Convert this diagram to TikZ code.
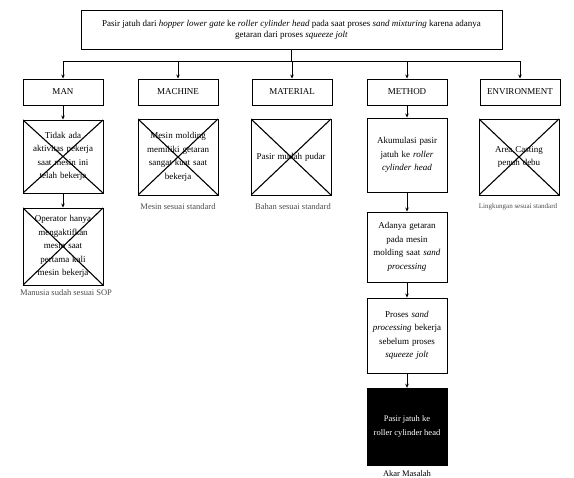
\documentclass[tikz,border=0pt]{standalone}
\usepackage{fontspec}
\setmainfont{Liberation Serif}
\usetikzlibrary{arrows.meta}
\begin{document}
\begin{tikzpicture}[x=1pt,y=-1pt,
  every node/.style={inner sep=1pt},
  probbox/.style={draw,line width=0.9pt,align=center,font=\fontsize{9}{11}\selectfont,minimum width=421pt,minimum height=39pt},
  catbox/.style={draw,line width=0.9pt,align=center,font=\fontsize{9}{11}\selectfont,minimum width=80pt,minimum height=26pt},
  causebox/.style={draw,line width=0.9pt,align=center,font=\fontsize{9}{13.5}\selectfont,minimum width=80pt,text width=76pt},
  crossed/.style={path picture={\draw[line width=1.1pt] (path picture bounding box.north west) -- (path picture bounding box.south east) (path picture bounding box.north east) -- (path picture bounding box.south west);}},
  rootbox/.style={draw,fill=black,text=white,align=center,font=\fontsize{8.5}{14}\selectfont,minimum width=80pt,minimum height=77pt},
  caption/.style={font=\fontsize{8.5}{10}\selectfont,text=black!70},
  link/.style={line width=0.9pt},
  arr/.style={line width=0.9pt,-{Stealth[length=4pt,width=3.5pt]}}
]
\useasboundingbox (0,0) rectangle (574,478);

\node[probbox] (top) at (291.5,29.5) {Pasir jatuh dari \textit{hopper lower gate} ke \textit{roller cylinder head} pada saat proses \textit{sand mixturing} karena adanya\\ getaran dari proses \textit{squeeze jolt}};

\node[catbox] (man) at (63,92) {MAN};
\node[catbox] (mach) at (178,92) {MACHINE};
\node[catbox] (mat) at (292,92) {MATERIAL};
\node[catbox] (meth) at (407,92) {METHOD};
\node[catbox] (env) at (520,92) {ENVIRONMENT};

\draw[link] (top.south) -- ++(0,12) coordinate (busc);
\draw[link] (man.north |- busc) -- (env.north |- busc);
\foreach \n in {man,mach,mat,meth,env} \draw[arr] (\n.north |- busc) -- (\n.north);

\node[causebox,crossed,minimum height=73pt] (man1) at (63,156.5) {Tidak ada\\ aktivitas pekerja\\ saat mesin ini\\ telah bekerja};
\node[causebox,crossed,minimum height=77pt] (man2) at (63,246.5) {Operator hanya\\ mengaktifkan\\ mesin saat\\ pertama kali\\ mesin bekerja};
\node[causebox,crossed,minimum height=76pt] (mach1) at (178,157) {Mesin molding\\ memiliki getaran\\ sangat kuat saat\\ bekerja};
\node[causebox,crossed,minimum height=76pt] (mat1) at (291,157) {Pasir mudah pudar};
\node[causebox,crossed,minimum height=76pt] (env1) at (519,157) {Area Casting\\ penuh debu};

\node[causebox,minimum height=74pt] (meth1) at (407,155) {Akumulasi pasir\\ jatuh ke \textit{roller}\\ \textit{cylinder head}};
\node[causebox,minimum height=70pt] (meth2) at (407,247) {Adanya getaran\\ pada mesin\\ molding saat \textit{sand}\\ \textit{processing}};
\node[causebox,minimum height=75pt] (meth3) at (407,335.5) {Proses \textit{sand}\\ \textit{processing} bekerja\\ sebelum proses\\ \textit{squeeze jolt}};
\node[rootbox] (root) at (407,426.5) {Pasir jatuh ke\\ roller cylinder head};

\draw[arr] (man) -- (man1);
\draw[arr] (man1) -- (man2);
\draw[arr] (meth) -- (meth1);
\draw[arr] (meth1) -- (meth2);
\draw[arr] (meth2) -- (meth3);
\draw[arr] (meth3) -- (root);

\node[caption] (capman) at (66,293) {Manusia sudah sesuai SOP};
\node[caption] (capmach) at (178,207) {Mesin sesuai standard};
\node[caption] (capmat) at (293,207) {Bahan sesuai standard};
\node[caption,font=\fontsize{7}{9}\selectfont] (capenv) at (518,207) {Lingkungan sesuai standard};
\node[font=\fontsize{8.5}{10}\selectfont] (caproot) at (407,474) {Akar Masalah};
\end{tikzpicture}
\end{document}
